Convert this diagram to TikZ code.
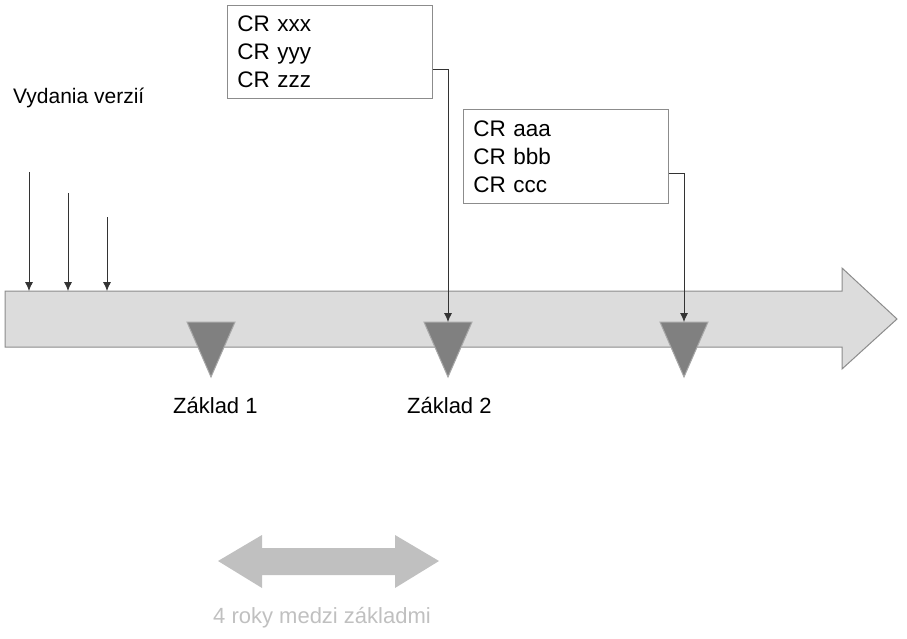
\documentclass[tikz,border=0pt]{standalone}
\usepackage{fontspec}
\setmainfont{Liberation Sans}
\usetikzlibrary{arrows.meta}
\definecolor{shaftfill}{HTML}{DCDCDC}
\definecolor{shaftline}{HTML}{8C8C8C}
\definecolor{trifill}{HTML}{808080}
\definecolor{triline}{HTML}{A8A8A8}
\definecolor{spanfill}{HTML}{C0C0C0}
\tikzset{
  crbox/.style={draw=shaftline, line width=0.8pt, fill=white, anchor=north west, align=left,
     minimum width=205pt, text width=185pt, inner xsep=10pt, inner ysep=0pt,
     font=\fontsize{22.5}{28}\selectfont},
  lbl/.style={font=\fontsize{22}{26}\selectfont, inner sep=0pt},
  conn/.style={draw=black!80, line width=0.8pt, -{Latex[length=9pt,width=8pt]}},
  basetri/.style={fill=trifill, draw=triline, line width=1pt},
}
\begin{document}
\begin{tikzpicture}[x=1pt,y=-1pt]
\useasboundingbox (0,0) rectangle (907,639);
% main timeline arrow
\draw[fill=shaftfill, draw=shaftline, line width=1pt]
  (5,291) -- (842,291) -- (842,268) -- (897,319) -- (842,369) -- (842,347) -- (5,347) -- cycle;
% baseline triangles
\draw[basetri] (187,322) -- (235,322) -- (211,377) -- cycle;
\draw[basetri] (424,322) -- (472,322) -- (448,377) -- cycle;
\draw[basetri] (660,322) -- (708,322) -- (684,377) -- cycle;
\coordinate (t2) at (448,322);
\coordinate (t3) at (684,322);
% release arrows
\node[lbl, anchor=west, font=\fontsize{21}{26}\selectfont] (rel) at (13,98) {Vydania verzií};
\coordinate (r1s) at (29,172); \coordinate (r1e) at (29,291);
\coordinate (r2s) at (68,193); \coordinate (r2e) at (68,291);
\coordinate (r3s) at (107,217); \coordinate (r3e) at (107,291);
\draw[conn] (r1s) -- (r1e);
\draw[conn] (r2s) -- (r2e);
\draw[conn] (r3s) -- (r3e);
% CR boxes
\node[crbox, minimum height=93pt] (b1) at (227,5) {CR xxx\\CR yyy\\CR zzz};
\node[crbox, minimum height=94pt] (b2) at (463,109) {CR aaa\\CR bbb\\CR ccc};
\draw[conn] ([yshift=-18pt]b1.east) -| (t2);
\draw[conn] ([yshift=-17pt]b2.east) -| (t3);
% labels
\node[lbl, anchor=west] (z1) at (173,406) {Základ 1};
\node[lbl, anchor=west] (z2) at (407,406) {Základ 2};
% span arrow
\fill[spanfill] (218,561) -- (262,535) -- (262,548) -- (395,548) -- (395,535) -- (439,561)
  -- (395,588) -- (395,575) -- (262,575) -- (262,588) -- cycle;
\node[lbl, anchor=west, text=spanfill] (span) at (213,618) {4 roky medzi základmi};
\end{tikzpicture}
\end{document}
